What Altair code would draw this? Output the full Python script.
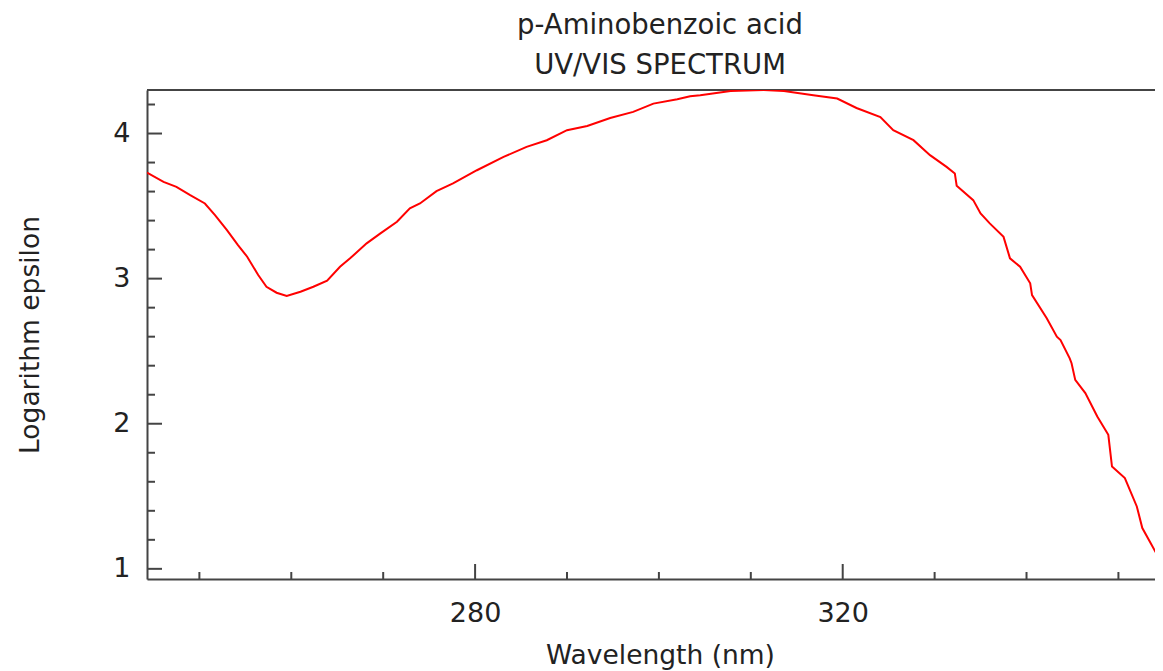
import altair as alt
import pandas as pd

# ---- data ----
wavelength = [244.3, 246.1, 247.5, 249.0, 250.6, 251.7, 253.0, 254.2, 255.2, 256.4,
              257.3, 258.4, 259.5, 261.0, 262.4, 263.9, 265.3, 266.4, 268.2, 269.7,
              271.5, 272.9, 274.0, 275.8, 277.6, 280.2, 283.1, 285.6, 287.8, 290.0,
              292.2, 294.7, 297.2, 299.4, 302.0, 303.4, 304.5, 307.8, 311.4, 313.6,
              316.8, 319.4, 321.5, 324.1, 325.5, 327.7, 329.5, 331.3, 332.2, 332.4,
              334.2, 335.0, 336.0, 337.5, 338.2, 339.3, 340.4, 340.6, 342.2, 343.3,
              343.7, 344.7, 344.9, 345.3, 346.4, 347.7, 348.9, 349.3, 350.7, 352.0,
              352.6, 353.5, 354.7, 354.85]
log_epsilon = [3.730, 3.667, 3.632, 3.575, 3.518, 3.438, 3.334, 3.231, 3.151, 3.025,
               2.944, 2.903, 2.880, 2.910, 2.944, 2.986, 3.082, 3.140, 3.243, 3.312,
               3.392, 3.484, 3.518, 3.603, 3.656, 3.747, 3.839, 3.908, 3.954, 4.023,
               4.052, 4.107, 4.149, 4.206, 4.236, 4.257, 4.264, 4.293, 4.300, 4.293,
               4.264, 4.241, 4.176, 4.114, 4.023, 3.954, 3.851, 3.770, 3.725, 3.640,
               3.541, 3.449, 3.381, 3.288, 3.140, 3.082, 2.968, 2.887, 2.727, 2.600,
               2.577, 2.451, 2.417, 2.302, 2.211, 2.050, 1.924, 1.705, 1.626, 1.430,
               1.281, 1.178, 1.041, 0.937]

x_major = [280, 320]
x_minor = [250, 260, 270, 290, 300, 310, 330, 340, 350]
y_major = [1, 2, 3, 4]
y_minor = [1.2, 1.4, 1.6, 1.8, 2.2, 2.4, 2.6, 2.8, 3.2, 3.4, 3.6, 3.8, 4.2]

title_lines = ["p-Aminobenzoic acid", "UV/VIS SPECTRUM"]
x_title = "Wavelength (nm)"
y_title = "Logarithm epsilon"

# ---- styling ----
W, H = 1008, 489
FONT = "DejaVu Sans"
TXT = "#222222"
AX = "#444444"

xs = alt.Scale(domain=[244.3, 353.98], nice=False, zero=False)
ys = alt.Scale(domain=[0.93, 4.30], nice=False, zero=False)

x_axis = alt.Axis(
    values=x_major, title=x_title, ticks=False, tickSize=0,
    domain=True, domainColor=AX, domainWidth=2, grid=False,
    labelFont=FONT, labelFontSize=27, labelColor=TXT,
    labelBaseline="middle", labelPadding=34,
    titleFont=FONT, titleFontSize=26.5, titleFontWeight="normal", titleColor=TXT,
    titleBaseline="middle", titleY=76, titleX=513,
)
y_axis = alt.Axis(
    values=y_major, title=y_title, ticks=False, tickSize=0,
    domain=True, domainColor=AX, domainWidth=2, grid=False,
    labelFont=FONT, labelFontSize=27, labelColor=TXT, labelPadding=17,
    titleFont=FONT, titleFontSize=26.5, titleFontWeight="normal", titleColor=TXT,
    titleAngle=-90, titleBaseline="middle", titleAlign="center",
    titleX=-117, titleY=H / 2,
)

df = pd.DataFrame({"wl": wavelength, "le": log_epsilon})

top_frame = alt.Chart(pd.DataFrame({"a": [0]})).mark_rule(
    color=AX, strokeWidth=2
).encode(x=alt.value(0), x2=alt.value(W), y=alt.value(0))

x_major_ticks = alt.Chart(pd.DataFrame({"wl": x_major})).mark_rule(
    color=AX, strokeWidth=2
).encode(x=alt.X("wl:Q", scale=xs, axis=x_axis), y=alt.value(H), y2=alt.value(H - 15))

x_minor_ticks = alt.Chart(pd.DataFrame({"wl": x_minor})).mark_rule(
    color=AX, strokeWidth=2
).encode(x=alt.X("wl:Q", scale=xs, axis=x_axis), y=alt.value(H), y2=alt.value(H - 7))

y_major_ticks = alt.Chart(pd.DataFrame({"le": y_major})).mark_rule(
    color=AX, strokeWidth=2
).encode(y=alt.Y("le:Q", scale=ys, axis=y_axis), x=alt.value(0), x2=alt.value(15))

y_minor_ticks = alt.Chart(pd.DataFrame({"le": y_minor})).mark_rule(
    color=AX, strokeWidth=2
).encode(y=alt.Y("le:Q", scale=ys, axis=y_axis), x=alt.value(0), x2=alt.value(8))

line = alt.Chart(df).mark_line(color="#ff0000", strokeWidth=2, clip=True).encode(
    x=alt.X("wl:Q", scale=xs, axis=x_axis),
    y=alt.Y("le:Q", scale=ys, axis=y_axis),
)

chart = alt.layer(
    top_frame, x_major_ticks, x_minor_ticks, y_major_ticks, y_minor_ticks, line
).properties(
    width=W, height=H,
    title=alt.TitleParams(
        text=title_lines, font=FONT, fontSize=27.5, fontWeight="normal", color=TXT,
        anchor="middle", lineHeight=40, offset=10, dx=9,
    ),
    autosize=alt.AutoSizeParams(type="none"),
    padding={"left": 139, "top": 82, "right": 0, "bottom": 92},
).configure_view(stroke=None).configure(background="white")

chart.save("out.html", embed_options={"renderer": "svg", "actions": False})
